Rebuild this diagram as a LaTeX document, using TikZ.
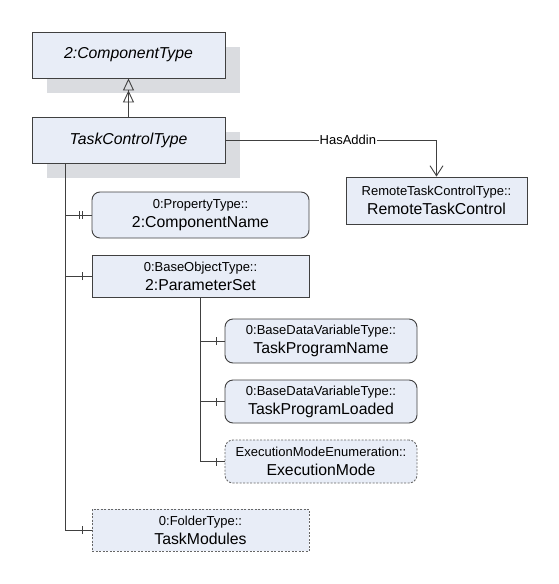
\documentclass[tikz,border=0pt]{standalone}
\usepackage{fontspec}
\setmainfont{Liberation Sans}
\usetikzlibrary{arrows.meta}
\definecolor{boxfill}{HTML}{E8EDF7}
\definecolor{boxline}{HTML}{404040}
\definecolor{shadowc}{HTML}{DADCE0}
\tikzset{
  base/.style={draw=boxline, fill=boxfill, line width=0.9pt, inner sep=0pt, align=center},
  typebox/.style={base, minimum width=193pt, minimum height=46pt, font=\fontsize{15.8}{18}\selectfont\itshape},
  objbox/.style={base, font=\fontsize{15.8}{18}\selectfont},
  varbox/.style={objbox, rounded corners=8pt},
  optbox/.style={dashed, dash pattern=on 2pt off 1.5pt, draw=gray!80!black},
  conn/.style={draw=boxline, line width=0.9pt},
  small/.style={font=\fontsize{13}{14}\selectfont}
}
\newcommand{\twoline}[2]{{\fontsize{13}{14}\selectfont #1}\\[1pt]#2}
\begin{document}
\begin{tikzpicture}[x=1pt,y=-1pt]
\useasboundingbox (0,0) rectangle (559,584);
% shadows
\fill[shadowc] (47,47) rectangle (240,93);
\fill[shadowc] (47,132) rectangle (240,178);
\node[typebox] (ct) at (128.5,55) {2:ComponentType};
\node[typebox] (tct) at (128.5,140) {TaskControlType};
\node[objbox, minimum width=181pt, minimum height=47pt] (rtc) at (436.5,200.5) {\twoline{RemoteTaskControlType::}{RemoteTaskControl}};
\node[varbox, minimum width=217pt, minimum height=46pt] (cn) at (200.5,215) {\twoline{0:PropertyType::}{2:ComponentName}};
\node[objbox, minimum width=217pt, minimum height=42pt] (ps) at (200.5,276) {\twoline{0:BaseObjectType::}{2:ParameterSet}};
\node[varbox, minimum width=192pt, minimum height=44pt] (tpn) at (321,341) {\twoline{0:BaseDataVariableType::}{TaskProgramName}};
\node[varbox, minimum width=192pt, minimum height=43pt] (tpl) at (321,401.5) {\twoline{0:BaseDataVariableType::}{TaskProgramLoaded}};
\node[varbox, optbox, minimum width=192pt, minimum height=43pt] (em) at (321,461.5) {\twoline{ExecutionModeEnumeration::}{ExecutionMode}};
\node[objbox, optbox, minimum width=217pt, minimum height=42pt] (tm) at (200.5,530) {\twoline{0:FolderType::}{TaskModules}};
% inheritance
\draw[conn, -{Triangle[open,length=12pt,width=11pt,line width=0.9pt] Triangle[open,length=12pt,width=11pt,line width=0.9pt]}] (tct.north) -- (ct.south);
% HasAddin
\draw[conn, -{Straight Barb[length=10pt,width=13pt,line width=0.9pt]}] (tct.east) -| (rtc.north)
  node[pos=0.29, fill=white, inner sep=1pt, small] (ha) {HasAddin};
% trunks
\coordinate (t1) at ([xshift=-63.5pt]tct.south);
\coordinate (t2) at (ps.south);
\draw[conn] (t1) |- (tm.west);
\draw[conn] (t1 |- cn.west) -- (cn.west);
\draw[conn] (t1 |- ps.west) -- (ps.west);
\draw[conn] (t2) |- (em.west);
\draw[conn] (t2 |- tpn.west) -- (tpn.west);
\draw[conn] (t2 |- tpl.west) -- (tpl.west);
% ticks
\foreach \n/\d in {cn/12, cn/9, ps/9, tm/9, tpn/8, tpl/8, em/8}{
  \draw[conn] ([xshift=-\d pt, yshift=-4pt]\n.west) -- ([xshift=-\d pt, yshift=4pt]\n.west);
}
\end{tikzpicture}
\end{document}
